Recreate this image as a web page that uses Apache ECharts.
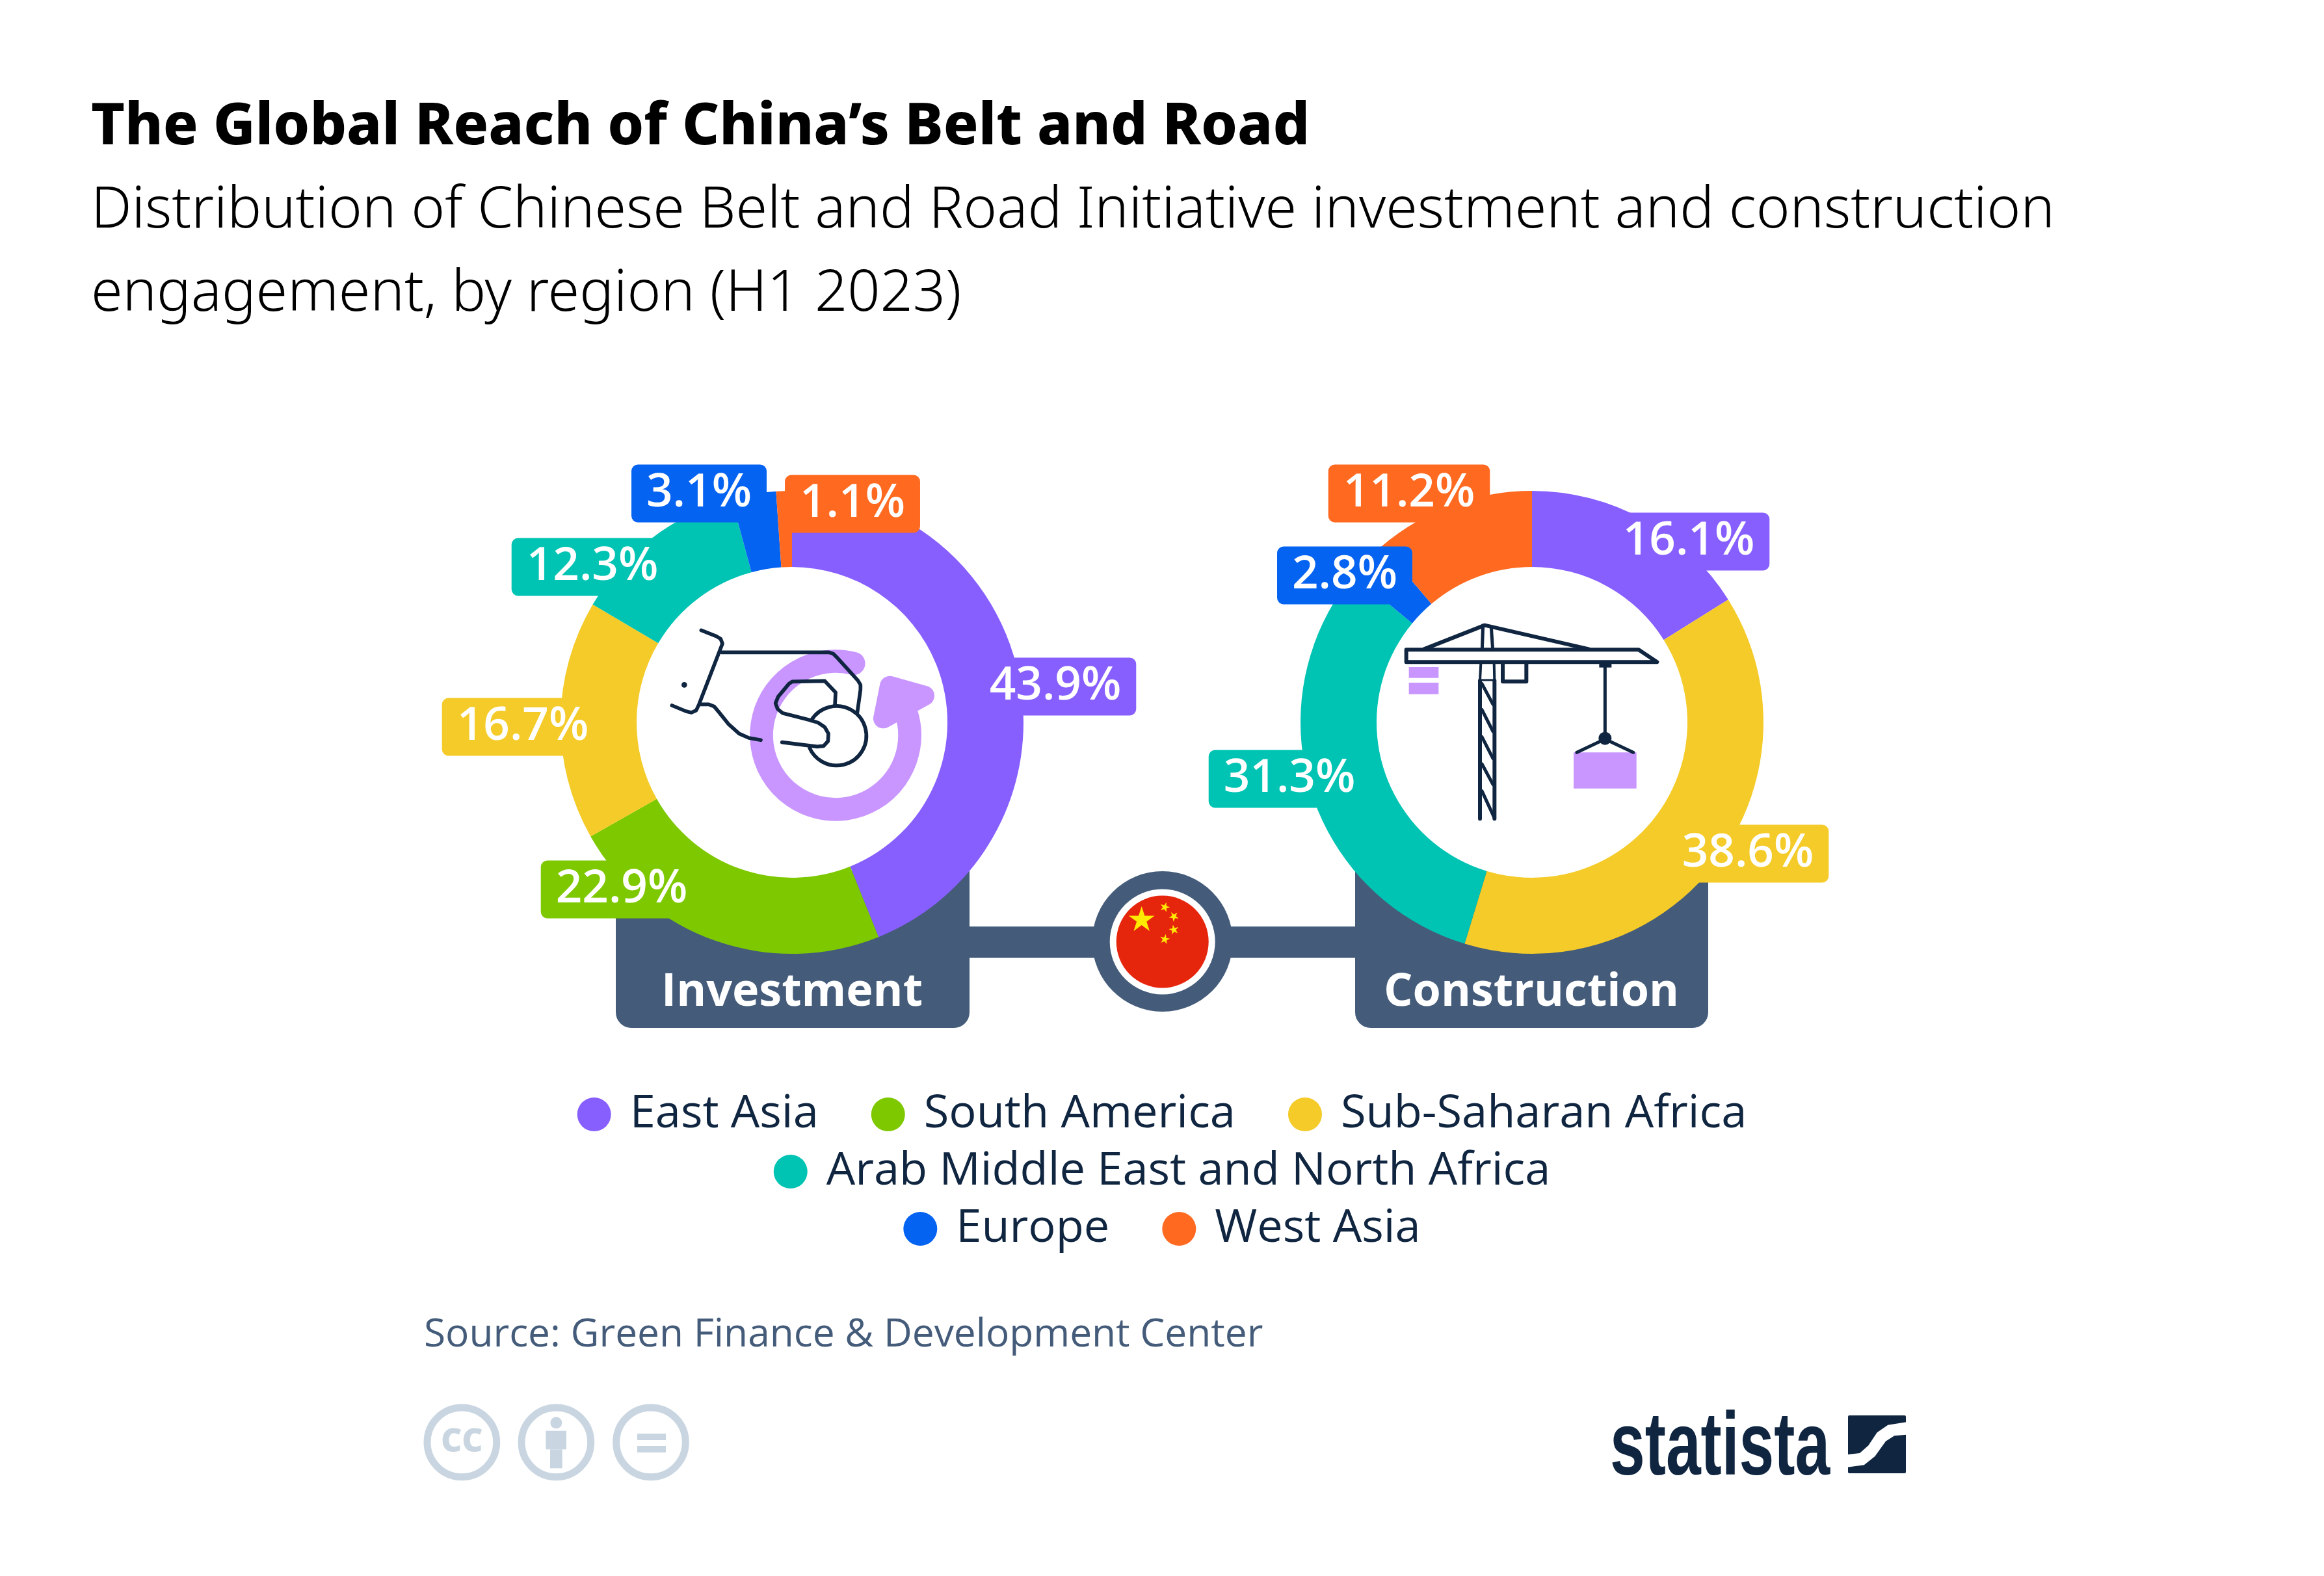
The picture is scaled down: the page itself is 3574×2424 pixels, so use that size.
<!DOCTYPE html>
<html><head><meta charset="utf-8">
<style>html,body{margin:0;padding:0;background:#fff}#c{width:3574px;height:2424px}</style>
<script src="https://cdn.jsdelivr.net/npm/echarts@6/dist/echarts.min.js"></script>
</head><body><div id="c"></div>
<script>
// ---- data ----
const regions = ['East Asia','South America','Sub-Saharan Africa','Arab Middle East and North Africa','Europe','West Asia'];
const investment = [43.9,22.9,16.7,12.3,3.1,1.1];
const construction = [16.1,null,38.6,31.3,2.8,11.2];
const panelTitles = ['Investment','Construction'];
const titleText = 'The Global Reach of China\u2019s Belt and Road';
const subtitleLines = ['Distribution of Chinese Belt and Road Initiative investment and construction','engagement, by region (H1 2023)'];
const sourceText = 'Source: Green Finance & Development Center';
const legendRows = [regions.slice(0,3),regions.slice(3,4),regions.slice(4,6)];

// ---- style ----
const colors = ['#875fff','#7ec800','#f4cb28','#00c4b3','#0563f2','#ff6a20'];
const DARK='#0f2540', PANEL='#445c7a', LILAC='#c996ff', CCGREY='#c9d6e1';
const cy=1111, R=356, r=239, cxs=[1218,2356];
const labelAnchors=[
  [[1623,1056],[956,1368],[804,1118],[911,872],[1075,759],[1311,775]],
  [[2597,833],null,[2688,1313],[1983,1198],[2068,885],[2167,759]]
];
function pieSeries(values,k){
  const anchors=[];const data=[];
  values.forEach((v,i)=>{ if(v==null) return;
    anchors.push(labelAnchors[k][i]);
    data.push({name:regions[i],value:v,itemStyle:{color:colors[i]},label:{backgroundColor:colors[i]}});
  });
  return {type:'pie',z:2,silent:true,center:[cxs[k],cy],radius:[r,R],startAngle:90,clockwise:true,
    avoidLabelOverlap:false,labelLine:{show:false},emphasis:{disabled:true},data,
    label:{show:true,position:'inside',formatter:p=>p.value.toFixed(1)+'%',color:'#fff',
      fontFamily:'Open Sans',fontWeight:600,fontSize:71,lineHeight:77,padding:[6,23],borderRadius:10},
    labelLayout:p=>({x:anchors[p.dataIndex][0],y:anchors[p.dataIndex][1],align:'center',verticalAlign:'middle'})
  };
}
function deco(e,z){ if(e.children) e.children.forEach(c=>deco(c,z)); else e.z=z; return e; }
const L=(pts,lw)=>({type:'polyline',shape:{points:pts},style:{stroke:DARK,fill:null,lineWidth:lw||17,lineCap:'round',lineJoin:'round'}});
function star(cx,cy,rr,rot){const p=[];for(let i=0;i<10;i++){const a=-Math.PI/2+rot+i*Math.PI/5,q=i%2?rr*0.382:rr;p.push([cx+q*Math.cos(a),cy+q*Math.sin(a)]);}
  return {type:'polygon',shape:{points:p},style:{fill:'#ffea00'}};}

const handIcon={type:'group',x:1000,y:940,scaleX:1/3,scaleY:1/3,children:[
  {type:'arc',shape:{cx:855,cy:573,r:342,startAngle:-1.325,endAngle:-0.398,clockwise:false},style:{stroke:LILAC,fill:null,lineWidth:107,lineCap:'round'}},
  {type:'polygon',shape:{points:[[1075,495],[1105,345],[1265,390]]},style:{fill:LILAC,stroke:LILAC,lineWidth:92,lineJoin:'round'}},
  L([[235,88],[305,116],[325,128],[333,150],[225,430],[212,458],[190,468],[165,462],[100,435]]),
  L([[330,190],[825,190],[845,197],[860,212],[958,320],[970,340],[970,362],[955,470]]),
  L([[232,430],[270,430],[295,440],[320,470],[360,520],[410,565],[455,585],[510,595]]),
  {type:'circle',shape:{cx:157,cy:340,r:13},style:{fill:DARK}},
  L([[745,505],[610,470],[588,452],[578,425],[590,395],[640,335],[655,325],[805,322],[855,375],[852,435]]),
  L([[745,505],[775,515],[805,535],[822,565],[820,600],[800,622],[770,625],[608,605]]),
  {type:'arc',shape:{cx:860,cy:575,r:137,startAngle:-2.607,endAngle:2.714,clockwise:true},style:{stroke:DARK,fill:null,lineWidth:17,lineCap:'round'}}
]};
const craneIcon={type:'group',x:2150,y:940,scaleX:1/3,scaleY:1/3,children:[
  {type:'rect',shape:{x:50,y:258,width:137,height:50},style:{fill:LILAC}},
  {type:'rect',shape:{x:50,y:330,width:137,height:53},style:{fill:LILAC}},
  {type:'rect',shape:{x:810,y:652,width:290,height:166},style:{fill:LILAC}},
  L([[38,178],[1110,178],[1195,235],[38,235],[38,178]],18),
  L([[120,175],[400,65],[880,175]],18),
  L([[392,65],[388,178]],15),L([[430,75],[437,178]],15),
  L([[382,240],[378,320]],12),L([[443,240],[445,320]],12),L([[378,318],[445,318]],9),
  L([[378,320],[378,958]],18),L([[445,320],[445,958]],18),
  L([[387,335],[438,430]],15),L([[387,455],[438,555]],15),L([[387,580],[438,680]],15),L([[387,705],[438,800]],15),L([[387,830],[445,955]],15),
  L([[483,240],[483,325],[592,325],[592,240]],18),
  {type:'rect',shape:{x:928,y:238,width:57,height:22},style:{fill:DARK}},
  L([[955,250],[955,585]],15),
  {type:'circle',shape:{cx:955,cy:587,r:30},style:{fill:DARK}},
  L([[825,652],[955,590],[1085,652]],15)
]};
const panelY=1340, panelB=1581;
const rect=(x,w)=>({type:'rect',shape:{x,y:panelY,width:w,height:panelB-panelY,r:[0,0,24,24]},style:{fill:PANEL}});
const panelLabel=(t,x)=>({type:'text',x,y:1527,style:{text:t,fill:'#fff',font:'700 70px "Open Sans"',align:'center',verticalAlign:'middle'}});
const flag={type:'group',children:[
  {type:'rect',shape:{x:1480,y:1425,width:620,height:48},style:{fill:PANEL}},
  {type:'circle',shape:{cx:1787.7,cy:1448,r:108},style:{fill:PANEL}},
  {type:'circle',shape:{cx:1787.7,cy:1448.5,r:81},style:{fill:'#fff'}},
  {type:'circle',shape:{cx:1787.7,cy:1448.5,r:71},style:{fill:'#e6250d'}},
  star(1755.7,1415,21,0),star(1791.3,1395.3,8,0.3),star(1805.3,1409.7,8,0.7),star(1805.3,1430,8,-0.2),star(1791.3,1444.7,8,0.2)
]};
const ccIcons={type:'group',x:640,y:2150,scaleX:1/3,scaleY:1/3,children:[
  ...[211,646,1083].map(x=>({type:'circle',shape:{cx:x,cy:205,r:160},style:{fill:null,stroke:CCGREY,lineWidth:33}})),
  {type:'text',x:211,y:207,style:{text:'CC',fill:CCGREY,font:'800 150px "Open Sans"',align:'center',verticalAlign:'middle'}},
  {type:'circle',shape:{cx:646,cy:115,r:27},style:{fill:CCGREY}},
  {type:'rect',shape:{x:598,y:152,width:95,height:86},style:{fill:CCGREY}},
  {type:'rect',shape:{x:618,y:238,width:56,height:87},style:{fill:CCGREY}},
  {type:'rect',shape:{x:1020,y:165,width:132,height:30},style:{fill:CCGREY}},
  {type:'rect',shape:{x:1020,y:222,width:132,height:30},style:{fill:CCGREY}}
]};
const logo={type:'group',children:[
  {type:'text',x:2476,y:2230,scaleX:0.70,style:{text:'statista',fill:DARK,font:'700 138px "Liberation Sans"',align:'left',verticalAlign:'middle'}},
  {type:'rect',shape:{x:2842,y:2177,width:89,height:89,r:2},style:{fill:DARK}},
  {type:'polygon',x:2470,y:2160,scaleX:1/3,scaleY:1/3,shape:{smooth:0,points:[[1112,232],[1170,225],[1210,190],[1250,130],[1300,95],[1385,82],[1385,140],[1330,145],[1290,170],[1240,240],[1190,280],[1112,290]]},style:{fill:'#fff'}}
]};
const graphics=[
  deco(rect(947,544),0),deco(rect(2084,543),0),
  {type:'circle',z:1,shape:{cx:cxs[0],cy,r:r+1},style:{fill:'#fff'}},
  {type:'circle',z:1,shape:{cx:cxs[1],cy,r:r+1},style:{fill:'#fff'}},
  deco(flag,0),
  deco(panelLabel(panelTitles[0],cxs[0]),5),deco(panelLabel(panelTitles[1],2355),5),
  deco(handIcon,5),deco(craneIcon,5),deco(ccIcons,5),deco(logo,5)
];
const chart=echarts.init(document.getElementById('c'),null,{renderer:'canvas'});
chart.setOption({
  animation:false,backgroundColor:'#fff',
  title:[
    {text:titleText,left:140,top:144,padding:0,textStyle:{fontFamily:'Noto Sans',fontWeight:800,fontSize:89,color:'#000',lineHeight:106}},
    {text:subtitleLines.join('\n'),left:140,top:261,padding:0,textStyle:{fontFamily:'Noto Sans',fontWeight:300,fontSize:88,color:'#000',lineHeight:128}},
    {text:sourceText,left:652,top:2016,padding:0,textStyle:{fontFamily:'Open Sans',fontWeight:400,fontSize:60.4,color:PANEL,lineHeight:76}}
  ],
  legend:legendRows.map((row,i)=>({
    data:row,left:'center',top:[1679,1767,1855][i],icon:'circle',itemWidth:52,itemHeight:52,itemGap:81,selectedMode:false,padding:0,
    textStyle:{fontFamily:'Open Sans',fontSize:70.4,color:DARK,padding:[0,0,0,24],lineHeight:52}
  })),
  series:[pieSeries(investment,0),pieSeries(construction,1)],
  graphic:{elements:graphics}
});
</script></body></html>
